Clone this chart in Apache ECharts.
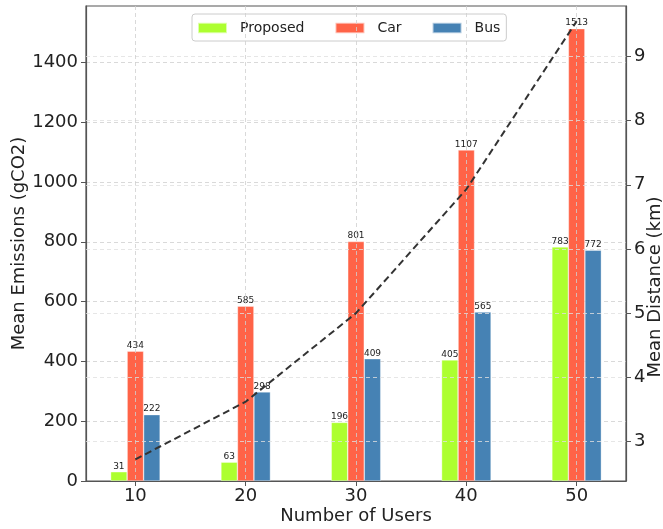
<!DOCTYPE html>
<html>
<head>
<meta charset="utf-8">
<script src="https://cdn.jsdelivr.net/npm/echarts@6/dist/echarts.min.js"></script>
<style>
  html, body { margin: 0; padding: 0; background: #fff; }
  #chart { width: 663px; height: 529px; }
</style>
</head>
<body>
<div id="chart"></div>
<script>
// Number of users per scenario
const users = [10, 20, 30, 40, 50];
// Mean emissions (gCO2) per transport mode
const proposed = [31, 63, 196, 405, 783];
const car = [434, 585, 801, 1107, 1513];
const bus = [222, 298, 409, 565, 772];
// Mean travel distance (km)
const distance = [2.72, 3.62, 5.0, 6.93, 9.55];
// Tick labels
const emissionTicks = [0, 200, 400, 600, 800, 1000, 1200, 1400];
const distanceTicks = [3, 4, 5, 6, 7, 8, 9];

const FONT = 'DejaVu Sans';
const gridDash = { color: '#cfcfcf', type: [4, 3], width: 0.8 };
const plain = (v) => String(v);

const pairs = (vals) => users.map((u, i) => [u, vals[i]]);

const barLabel = {
  show: true,
  position: 'top',
  distance: 1,
  fontFamily: FONT,
  fontSize: 9,
  color: '#222',
  formatter: (p) => String(p.value[1])
};

function barSeries(name, vals, color) {
  return {
    name: name,
    type: 'bar',
    xAxisIndex: 0,
    yAxisIndex: 0,
    data: pairs(vals),
    barWidth: 16.5,
    barGap: '0%',
    itemStyle: { color: color, borderColor: 'rgba(255,255,255,0.6)', borderWidth: 0.6 },
    label: barLabel,
    z: 2
  };
}

const chart = echarts.init(document.getElementById('chart'), null, { renderer: 'canvas' });

chart.setOption({
  animation: false,
  backgroundColor: '#fff',
  textStyle: { fontFamily: FONT },
  grid: {
    left: 86, right: 37, top: 6, bottom: 48,
    containLabel: false,
    outerBoundsMode: 'none',
    show: true, borderColor: '#555', borderWidth: 1.2, backgroundColor: 'transparent'
  },
  legend: {
    left: 192, top: 14,
    icon: 'rect',
    itemWidth: 29, itemHeight: 10.5, itemGap: 30,
    padding: [7, 6, 6, 5],
    borderColor: '#cccccc', borderWidth: 1, borderRadius: 3,
    backgroundColor: 'rgba(255,255,255,0.85)',
    textStyle: { fontFamily: FONT, fontSize: 14, color: '#222', padding: [0, 0, 0, 8] },
    data: ['Proposed', 'Car', 'Bus']
  },
  xAxis: {
    type: 'value',
    min: 5.525, max: 54.475,
    splitNumber: 5,
    z: 5,
    name: 'Number of Users',
    nameLocation: 'middle',
    nameGap: 26,
    nameMoveOverlap: false,
    nameTextStyle: { fontFamily: FONT, fontSize: 18, color: '#222' },
    axisLine: { show: true, lineStyle: { color: '#555', width: 1.2 } },
    axisTick: { show: true, customValues: users, length: 5, lineStyle: { color: '#555' } },
    axisLabel: { customValues: users, formatter: plain, fontFamily: FONT, fontSize: 18, color: '#222', margin: 6 },
    splitLine: { show: true, lineStyle: gridDash }
  },
  yAxis: [
    {
      type: 'value',
      min: 0, max: 1588.65,
      interval: 200,
      position: 'left',
      name: 'Mean Emissions (gCO2)',
      nameLocation: 'middle',
      nameRotate: 90,
      nameGap: 58,
      nameMoveOverlap: false,
      nameTextStyle: { fontFamily: FONT, fontSize: 18, color: '#222' },
      axisLine: { show: true, lineStyle: { color: '#555', width: 1.2 } },
      axisTick: { show: true, customValues: emissionTicks, length: 5, lineStyle: { color: '#555' } },
      axisLabel: { customValues: emissionTicks, formatter: plain, fontFamily: FONT, fontSize: 18, color: '#222', margin: 8 },
      splitLine: { show: true, lineStyle: gridDash }
    },
    {
      type: 'value',
      min: 2.384, max: 9.787,
      splitNumber: 7,
      position: 'right',
      z: 5,
      name: 'Mean Distance (km)',
      nameLocation: 'middle',
      nameRotate: 90,
      nameGap: 20,
      nameMoveOverlap: false,
      nameTextStyle: { fontFamily: FONT, fontSize: 18, color: '#222', padding: [0, 87, 0, 0] },
      axisLine: { show: true, lineStyle: { color: '#555', width: 1.2 } },
      axisTick: { show: true, customValues: distanceTicks, length: 5, lineStyle: { color: '#555' } },
      axisLabel: { customValues: distanceTicks, formatter: plain, fontFamily: FONT, fontSize: 18, color: '#222', margin: 8 },
      splitLine: { show: true, lineStyle: { color: '#e0e0e0', type: [4, 3], width: 0.8 } }
    }
  ],
  series: [
    barSeries('Proposed', proposed, '#ADFF2F'),
    barSeries('Car', car, '#FF6347'),
    barSeries('Bus', bus, '#4682B4'),
    {
      name: 'Mean Distance',
      type: 'line',
      xAxisIndex: 0,
      yAxisIndex: 1,
      data: pairs(distance),
      smooth: false,
      showSymbol: false,
      symbol: 'none',
      lineStyle: { color: '#333', width: 2, type: [7, 4] },
      z: 10
    }
  ]
});
</script>
</body>
</html>
